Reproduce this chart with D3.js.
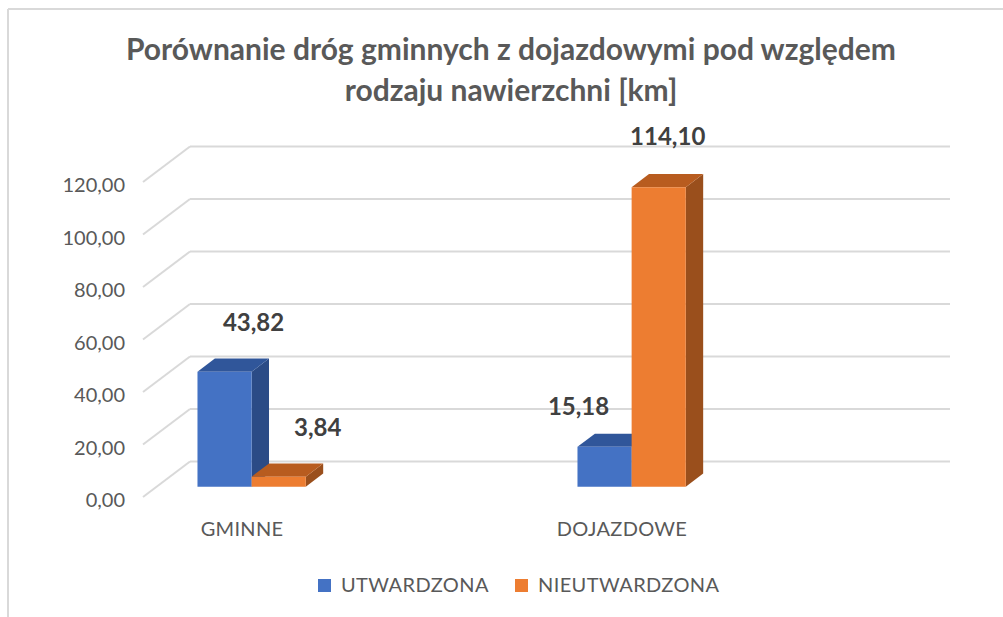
<!DOCTYPE html>
<html>
<head>
<meta charset="utf-8">
<script src="https://cdn.jsdelivr.net/npm/d3@7"></script>
<style>
  body { margin: 0; background: #fff; }
  svg { display: block; }
  text { font-family: Lato, "Open Sans", sans-serif; }
</style>
</head>
<body>
<div id="chart"></div>
<script>
// chart values
const categories = ['GMINNE', 'DOJAZDOWE'];
const seriesNames = ['UTWARDZONA', 'NIEUTWARDZONA'];
const utwardzona = [43.82, 15.18];
const nieutwardzona = [3.84, 114.10];
const yTicks = [0, 20, 40, 60, 80, 100, 120];
const titleLines = ['Porównanie dróg gminnych z dojazdowymi pod względem', 'rodzaju nawierzchni [km]'];

// hand placed data labels, like in the original sheet (dx, dy from bar top)
const labelNudge = [[[29, -50], [39, -50]], [[-26, -41], [9, -51]]];

const colors = {
    UTWARDZONA: { front: '#4472c4', top: '#30569a', side: '#2b4b86' },
    NIEUTWARDZONA: { front: '#ed7d31', top: '#b85c1f', side: '#9a4f1c' }
};

const width = 1003;
const height = 617;
const fmt = d3.formatLocale({ decimal: ',', thousands: ' ', grouping: [3], currency: ['', ''] }).format('.2f');

const svg = d3.select('#chart')
    .append('svg')
    .attr('width', width)
    .attr('height', height);

// chart frame (only top and left edge are visible in the crop)
svg.append('line').attr('x1', 8).attr('x2', width).attr('y1', 9).attr('y2', 9)
    .attr('stroke', '#d9d9d9').attr('stroke-width', 2);
svg.append('line').attr('x1', 8).attr('x2', 8).attr('y1', 9).attr('y2', height)
    .attr('stroke', '#d9d9d9').attr('stroke-width', 2);

// title
svg.append('g')
    .selectAll('text')
    .data(titleLines)
    .join('text')
    .attr('x', 511)
    .attr('y', (d, i) => 60 + i * 41)
    .attr('text-anchor', 'middle')
    .attr('font-size', 30)
    .attr('font-weight', 'bold')
    .attr('fill', '#595959')
    .text(d => d);

// oblique 3d projection: z = 0 is the front of the floor, z = 1 the back wall
const DX = 47, DY = -35.5;
const yScale = d3.scaleLinear().domain([0, 120]).range([497, 182]);
const xScale = d3.scaleBand().domain(categories).range([143, 903]);
const groupWidth = xScale.bandwidth() * 0.285;
const groupCenter = c => xScale(c) + xScale.bandwidth() / 4;
const seriesScale = d3.scaleBand().domain(seriesNames).range([-groupWidth / 2, groupWidth / 2]);
const proj = (x, v, z) => [x + z * DX, yScale(v) + z * DY];
const x0 = xScale.range()[0], x1 = xScale.range()[1];

// gridlines: back wall + left side wall
const grid = svg.append('g').attr('stroke', '#d9d9d9').attr('stroke-width', 2).attr('fill', 'none');
grid.selectAll('.back')
    .data(yTicks)
    .join('line')
    .attr('class', 'back')
    .attr('x1', d => proj(x0, d, 1)[0])
    .attr('x2', d => proj(x1, d, 1)[0])
    .attr('y1', d => proj(x0, d, 1)[1])
    .attr('y2', d => proj(x1, d, 1)[1]);
grid.selectAll('.side')
    .data(yTicks)
    .join('line')
    .attr('class', 'side')
    .attr('x1', d => proj(x0, d, 0)[0])
    .attr('x2', d => proj(x0, d, 1)[0])
    .attr('y1', d => proj(x0, d, 0)[1])
    .attr('y2', d => proj(x0, d, 1)[1]);

// value axis labels
svg.append('g')
    .selectAll('text')
    .data(yTicks)
    .join('text')
    .attr('x', 125)
    .attr('y', d => yScale(d) + 10)
    .attr('text-anchor', 'end')
    .attr('font-size', 20)
    .attr('fill', '#595959')
    .text(d => fmt(d));

// bars
const zFront = 0.29, zBack = 0.66;
const bars = [];
categories.forEach((c, ci) => {
    [utwardzona, nieutwardzona].forEach((values, si) => {
        const left = groupCenter(c) + seriesScale(seriesNames[si]);
        bars.push({ c, ci, si, series: seriesNames[si], value: values[ci], left, right: left + seriesScale.bandwidth() });
    });
});

const pts = arr => arr.map(p => p.join(',')).join(' ');
const barG = svg.append('g')
    .selectAll('g')
    .data(bars)
    .join('g');

barG.append('polygon')
    .attr('fill', d => colors[d.series].side)
    .attr('points', d => pts([
        proj(d.right, 0, zFront), proj(d.right, 0, zBack),
        proj(d.right, d.value, zBack), proj(d.right, d.value, zFront)
    ]));
barG.append('polygon')
    .attr('fill', d => colors[d.series].top)
    .attr('points', d => pts([
        proj(d.left, d.value, zFront), proj(d.left, d.value, zBack),
        proj(d.right, d.value, zBack), proj(d.right, d.value, zFront)
    ]));
barG.append('polygon')
    .attr('fill', d => colors[d.series].front)
    .attr('points', d => pts([
        proj(d.left, 0, zFront), proj(d.right, 0, zFront),
        proj(d.right, d.value, zFront), proj(d.left, d.value, zFront)
    ]));

// data labels
svg.append('g')
    .selectAll('text')
    .data(bars)
    .join('text')
    .attr('x', d => proj((d.left + d.right) / 2, d.value, zFront)[0] + labelNudge[d.ci][d.si][0])
    .attr('y', d => proj((d.left + d.right) / 2, d.value, zFront)[1] + labelNudge[d.ci][d.si][1] + 9)
    .attr('text-anchor', 'middle')
    .attr('font-size', 24)
    .attr('font-weight', 'bold')
    .attr('fill', '#404040')
    .text(d => fmt(d.value));

// category labels
svg.append('g')
    .selectAll('text')
    .data(categories)
    .join('text')
    .attr('x', d => groupCenter(d) + 4)
    .attr('y', 536)
    .attr('text-anchor', 'middle')
    .attr('font-size', 20)
    .attr('letter-spacing', 0.3)
    .attr('fill', '#595959')
    .text(d => d);

// legend
const legendX = [318, 515];
const legend = svg.append('g')
    .selectAll('g')
    .data(seriesNames)
    .join('g')
    .attr('transform', (d, i) => `translate(${legendX[i]},579)`);
legend.append('rect')
    .attr('width', 13)
    .attr('height', 13)
    .attr('fill', d => colors[d].front);
legend.append('text')
    .attr('x', 23)
    .attr('y', 13)
    .attr('font-size', 20)
    .attr('letter-spacing', 0.4)
    .attr('fill', '#595959')
    .text(d => d);
</script>
</body>
</html>
